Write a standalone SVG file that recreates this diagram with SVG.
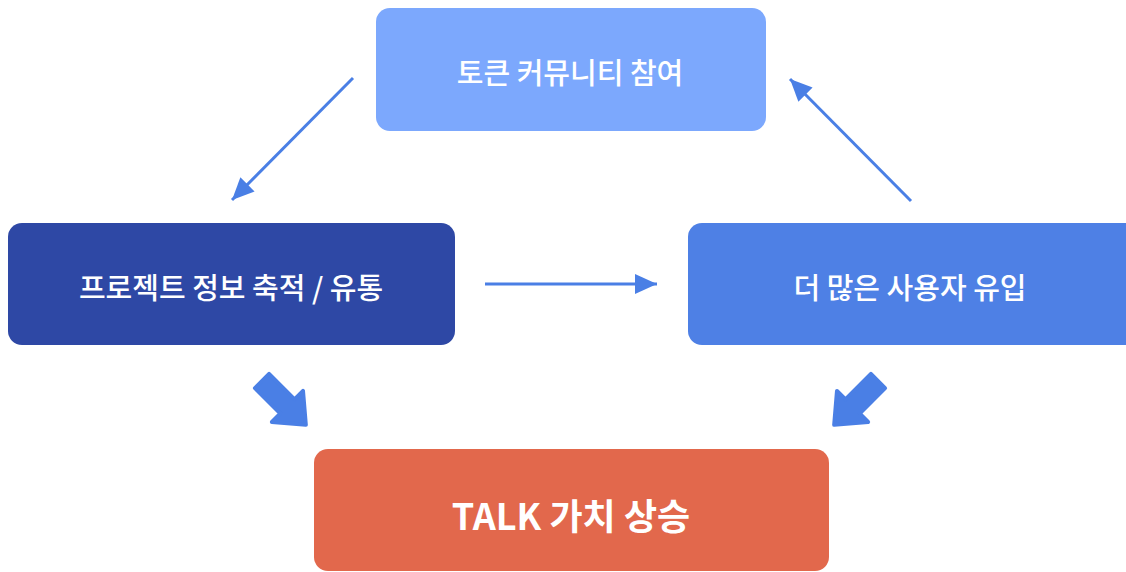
<svg xmlns="http://www.w3.org/2000/svg" width="1126" height="572" viewBox="0 0 1126 572">
<style>
.lbl{font-family:"Noto Sans CJK KR","Noto Sans",sans-serif;fill:#fff;text-anchor:middle;dominant-baseline:central}
.m{font-size:29px;font-weight:500}
.b{font-size:36px;font-weight:700}
.ln{stroke:#4A7FE5;stroke-width:3;fill:none}
.fat{fill:#4A7FE5;stroke:#4A7FE5;stroke-width:4;stroke-linejoin:round}
</style>
<defs>
<marker id="ah" markerUnits="userSpaceOnUse" markerWidth="24" markerHeight="24" viewBox="0 0 24 24" refX="22" refY="12" orient="auto">
<path d="M0,2 L22,12 L0,22 Z" fill="#4A7FE5"/>
</marker>
</defs>
<rect width="1126" height="572" fill="#fff"/>
<g id="connectors">
<line class="ln" x1="353" y1="78" x2="232" y2="200" marker-end="url(#ah)"/>
<line class="ln" x1="911" y1="201" x2="790" y2="79" marker-end="url(#ah)"/>
<line class="ln" x1="485" y1="284" x2="657" y2="284" marker-end="url(#ah)"/>
<path class="fat" transform="translate(262,381) rotate(45)" d="M0,-10 L36,-10 L36,-22 L62,0 L36,22 L36,10 L0,10 Z"/>
<path class="fat" transform="translate(878,381) rotate(135)" d="M0,-10 L36,-10 L36,-22 L62,0 L36,22 L36,10 L0,10 Z"/>
</g>
<g id="node-community">
<rect x="376" y="8" width="390" height="123" rx="14" fill="#7CA8FD"/>
<text class="lbl m" x="570" y="71">토큰 커뮤니티 참여</text>
</g>
<g id="node-project">
<rect x="8" y="223" width="447" height="122" rx="14" fill="#2E48A5"/>
<text class="lbl m" x="231" y="286">프로젝트 정보 축적 / 유통</text>
</g>
<g id="node-users">
<rect x="688" y="223" width="452" height="122" rx="14" fill="#4E80E5"/>
<text class="lbl m" x="910" y="286">더 많은 사용자 유입</text>
</g>
<g id="node-talk">
<rect x="314" y="449" width="515" height="122" rx="14" fill="#E2684C"/>
<text class="lbl b" x="571" y="514">TALK 가치 상승</text>
</g>
</svg>
